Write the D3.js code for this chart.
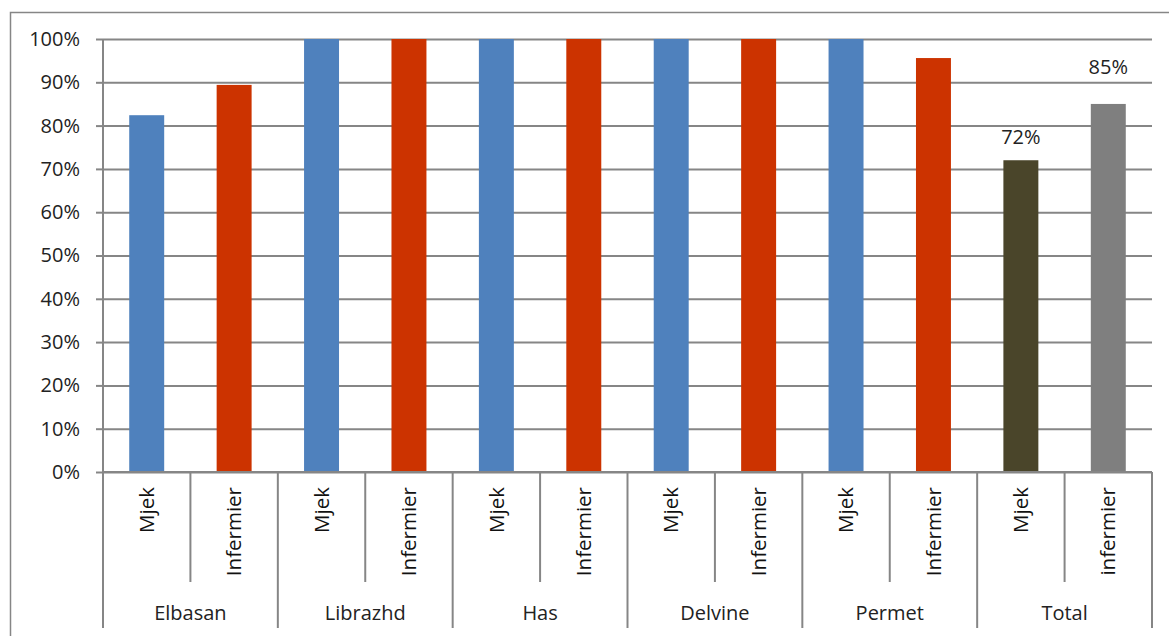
<!DOCTYPE html>
<html>
<head>
<meta charset="utf-8">
<script src="https://cdn.jsdelivr.net/npm/d3@7"></script>
<style>
  body { margin: 0; background: #fff; }
  svg { font-family: "Open Sans", sans-serif; }
</style>
</head>
<body>
<div id="chart"></div>
<script>
// data
var groups = ["Elbasan", "Librazhd", "Has", "Delvine", "Permet", "Total"];
var categories = [
  ["Mjek", "Infermier"], ["Mjek", "Infermier"], ["Mjek", "Infermier"],
  ["Mjek", "Infermier"], ["Mjek", "Infermier"], ["Mjek", "infermier"]
];
var values = [
  [0.824, 0.894], [1.0, 1.0], [1.0, 1.0],
  [1.0, 1.0], [1.0, 0.956], [0.72, 0.85]
];
var labelled = ["72%", "85%"];   // only the Total bars carry labels
var yTicks = [0, 0.1, 0.2, 0.3, 0.4, 0.5, 0.6, 0.7, 0.8, 0.9, 1.0];

var W = 1169, H = 636;
var plotLeft = 103, plotTop = 39, plotRight = 1152, plotBottom = 472;
var width = plotRight - plotLeft, height = plotBottom - plotTop;
var gridColor = "#868686";
var fontSize = "20px";

var svg = d3.select("#chart").append("svg")
  .attr("width", W)
  .attr("height", H);

// outer frame (left and top edges visible)
svg.append("path")
  .attr("d", "M10.5," + H + "V12.5H" + W)
  .attr("fill", "none")
  .attr("stroke", gridColor)
  .attr("stroke-width", 1.5);

// flatten into bars
var bars = [];
groups.forEach(function (g, gi) {
  categories[gi].forEach(function (c, ci) {
    bars.push({ group: g, gi: gi, ci: ci, cat: c, value: values[gi][ci], key: g + "|" + ci });
  });
});

var barColor = function (d) {
  if (d.group == "Total") return d.ci == 0 ? "#4a452a" : "#7f7f7f";
  return d.ci == 0 ? "#4f81bd" : "#cc3300";
};

var x = d3.scaleBand().domain(bars.map(function (d) { return d.key; }))
  .range([0, width]).paddingInner(0.6).paddingOuter(0.3);
var yScale = d3.scaleLinear().domain([0, 1]).range([height, 0]);

var g = svg.append("g").attr("transform", "translate(" + plotLeft + "," + plotTop + ")");

// gridlines
g.append("g")
  .call(d3.axisLeft(yScale).tickValues(yTicks).tickSize(-width).tickFormat(""))
  .call(function (s) {
    s.select(".domain").remove();
    s.selectAll("line").attr("stroke", gridColor).attr("stroke-width", 2);
  });

// y axis
g.append("g")
  .call(d3.axisLeft(yScale).tickValues(yTicks).tickSize(7).tickPadding(16).tickFormat(d3.format(".0%")))
  .call(function (s) {
    s.select(".domain").attr("stroke", gridColor).attr("stroke-width", 2)
      .attr("d", "M0," + height + "V0");
    s.selectAll("line").attr("stroke", gridColor).attr("stroke-width", 2);
    s.selectAll("text").attr("font-size", fontSize).attr("fill", "#222")
      .attr("font-family", "Open Sans, sans-serif");
  });

// bars
g.selectAll(".bar")
  .data(bars)
  .enter().append("rect")
  .attr("class", "bar")
  .attr("x", function (d) { return x(d.key); })
  .attr("y", function (d) { return yScale(d.value); })
  .attr("width", x.bandwidth())
  .attr("height", function (d) { return height - yScale(d.value); })
  .attr("fill", barColor);

// value labels on the Total bars
var totals = bars.filter(function (d) { return d.group == "Total"; });
var labelLift = [23, 37];
g.selectAll(".vlabel")
  .data(totals)
  .enter().append("text")
  .attr("class", "vlabel")
  .attr("x", function (d) { return x(d.key) + x.bandwidth() / 2; })
  .attr("y", function (d, i) { return yScale(d.value) - labelLift[i]; })
  .attr("dy", "0.35em")
  .attr("text-anchor", "middle")
  .attr("font-size", fontSize)
  .attr("fill", "#222")
  .text(function (d, i) { return labelled[i]; });

// category axis (two levels)
var step = x.step();
var start = x(bars[0].key) - x.paddingOuter() * step;
var ax = g.append("g").attr("transform", "translate(0," + height + ")");

// x axis baseline
ax.append("line").attr("x1", 0).attr("x2", width)
  .attr("stroke", gridColor).attr("stroke-width", 2);

// separators between categories inside a group
bars.filter(function (d) { return d.ci == 1; }).forEach(function (d) {
  var sx = x(d.key) - (step - x.bandwidth()) / 2;
  ax.append("line").attr("x1", sx).attr("x2", sx).attr("y1", 0).attr("y2", 110)
    .attr("stroke", gridColor).attr("stroke-width", 2);
});

// group boundaries
var groupEdge = function (gi) { return start + gi * 2 * step; };
d3.range(groups.length + 1).forEach(function (gi) {
  var gx = Math.min(groupEdge(gi), width);
  ax.append("line").attr("x1", gx).attr("x2", gx).attr("y1", 0).attr("y2", 156)
    .attr("stroke", gridColor).attr("stroke-width", 2);
});

// rotated category labels
ax.selectAll(".cat")
  .data(bars)
  .enter().append("text")
  .attr("class", "cat")
  .attr("transform", function (d) {
    return "translate(" + (x(d.key) + x.bandwidth() / 2) + ",15) rotate(-90)";
  })
  .attr("text-anchor", "end")
  .attr("dy", "0.35em")
  .attr("font-size", "20.5px")
  .attr("fill", "#111")
  .text(function (d) { return d.cat; });

// group labels
ax.selectAll(".grp")
  .data(groups)
  .enter().append("text")
  .attr("class", "grp")
  .attr("x", function (d, i) { return groupEdge(i) + step; })
  .attr("y", 148)
  .attr("text-anchor", "middle")
  .attr("font-size", fontSize)
  .attr("fill", "#222")
  .text(function (d) { return d; });
</script>
</body>
</html>
